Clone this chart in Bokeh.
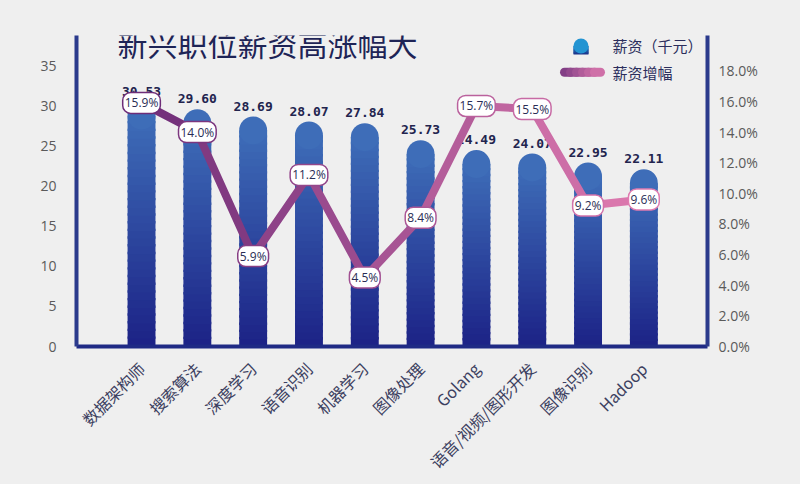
import numpy as np
from bokeh.plotting import figure
from bokeh.models import Range1d, LinearAxis, FixedTicker, NumeralTickFormatter, Label
from bokeh.core.properties import value
from bokeh.embed import file_html
from bokeh.resources import INLINE

# ---------------- data ----------------
categories = ["数据架构师", "搜索算法", "深度学习", "语音识别", "机器学习",
              "图像处理", "Golang", "语音/视频/图形开发", "图像识别", "Hadoop"]
salary = [30.53, 29.60, 28.69, 28.07, 27.84, 25.73, 24.49, 24.07, 22.95, 22.11]
growth_pct = [15.9, 14.0, 5.9, 11.2, 4.5, 8.4, 15.7, 15.5, 9.2, 9.6]
salary_ticks = [0, 5, 10, 15, 20, 25, 30, 35]
growth_ticks = [0, 2, 4, 6, 8, 10, 12, 14, 16, 18]
title_text = "新兴职位薪资高涨幅大"
legend_bar = "薪资（千元）"
legend_line = "薪资增幅"

# ---------------- layout ----------------
W, H = 800, 484
FL, FR, FT, FB = 76, 707, 35, 348
X0, X1 = -1.165, 10.14
Y1 = 38.8
P1 = 0.203
BG = "#efefef"
CJK = "Noto Sans CJK SC"

xs = (FR - FL) / (X1 - X0)
ys = (FB - FT) / Y1


def dx(px):
    return X0 + (px - FL) / xs


def dy(py):
    return (FB - py) / ys


def mix(c1, c2, t):
    a = [int(c1[i:i + 2], 16) for i in (1, 3, 5)]
    b = [int(c2[i:i + 2], 16) for i in (1, 3, 5)]
    return "#" + "".join("%02x" % int(round(a[k] + (b[k] - a[k]) * t)) for k in range(3))


p = figure(width=W, height=H, x_range=Range1d(X0, X1), y_range=Range1d(0, Y1),
           output_backend="svg", toolbar_location=None,
           min_border_left=FL, min_border_right=W - FR,
           min_border_top=FT, min_border_bottom=H - FB,
           background_fill_color=BG, border_fill_color=BG,
           outline_line_color=None, x_axis_location=None, y_axis_location=None)
p.grid.visible = False
p.extra_y_ranges = {"pct": Range1d(0, P1)}

# ---------------- axes ----------------
ax_l = LinearAxis(ticker=FixedTicker(ticks=salary_ticks))
ax_l.axis_line_width = 4
ax_l.axis_line_color = "#2b3a8c"
ax_l.major_tick_line_color = None
ax_l.minor_tick_line_color = None
ax_l.major_label_standoff = 14
ax_l.major_label_text_font = "Open Sans"
ax_l.major_label_text_font_size = "14px"
ax_l.major_label_text_color = "#5a5a5a"
p.add_layout(ax_l, "left")

ax_r = LinearAxis(y_range_name="pct", ticker=FixedTicker(ticks=[t / 100 for t in growth_ticks]),
                  formatter=NumeralTickFormatter(format="0.0%"))
ax_r.axis_line_width = 4
ax_r.axis_line_color = "#2b3a8c"
ax_r.major_tick_line_color = None
ax_r.minor_tick_line_color = None
ax_r.major_label_standoff = 5
ax_r.major_label_text_font = "Open Sans"
ax_r.major_label_text_font_size = "14px"
ax_r.major_label_text_color = "#5a5a5a"
p.add_layout(ax_r, "right")

ax_b = LinearAxis(ticker=FixedTicker(ticks=list(range(len(categories)))))
ax_b.major_label_overrides = {i: c for i, c in enumerate(categories)}
ax_b.major_label_orientation = np.pi / 4
ax_b.axis_line_width = 4
ax_b.axis_line_color = "#1f2a85"
ax_b.major_tick_line_color = None
ax_b.minor_tick_line_color = None
ax_b.major_label_standoff = 13
ax_b.major_label_text_font = CJK
ax_b.major_label_text_font_size = "16px"
ax_b.major_label_text_color = "#3c4060"
p.add_layout(ax_b, "below")

# ---------------- bars (gradient strips + rounded cap) ----------------
BAR_W = 0.5
ry = (BAR_W / 2) * xs / ys
TOP_C, BOT_C = "#3e6db8", "#1c2286"
N = 30
bx, bb, bt, bc = [], [], [], []
for i, v in enumerate(salary):
    h = v - ry
    for k in range(N):
        bx.append(i)
        bb.append(h * k / N)
        bt.append(min(h * (k + 1) / N + 0.3, h))
        bc.append(mix(BOT_C, TOP_C, (k + 0.5) / N))
p.vbar(x=bx, bottom=bb, top=bt, width=BAR_W, fill_color=bc, line_color=None)
p.circle(x=list(range(len(salary))), y=[v - ry for v in salary], radius=BAR_W / 2,
         fill_color=TOP_C, line_color=None)

# value labels
p.text(x=list(range(len(salary))), y=salary, text=["%.2f" % v for v in salary],
       y_offset=-6, text_align="center", text_baseline="bottom",
       text_font=value("DejaVu Sans Mono"), text_font_style="bold",
       text_font_size="13px", text_color="#22244e")

# ---------------- growth line ----------------
L_C0, L_C1 = "#6e2d78", "#e07bb0"
n = len(growth_pct)
gy = [g / 100 for g in growth_pct]
seg_c = [mix(L_C0, L_C1, (i + 0.5) / (n - 1)) for i in range(n - 1)]
p.segment(x0=list(range(n - 1)), y0=gy[:-1], x1=list(range(1, n)), y1=gy[1:],
          line_color=seg_c, line_width=8, line_cap="round", y_range_name="pct")

for i, g in enumerate(growth_pct):
    p.add_layout(Label(x=i, y=g / 100, y_range_name="pct", text="%.1f%%" % g,
                       text_align="center", text_baseline="middle",
                       text_font="Open Sans", text_font_size="12px", text_color="#2a2d55",
                       background_fill_color="white",
                       border_line_color=mix(L_C0, L_C1, i / (n - 1)), border_line_width=1.5,
                       border_radius=8, padding=2))

# ---------------- title ----------------
p.add_layout(Label(x=dx(117), y=dy(43), text=title_text, text_baseline="middle",
                   text_font=CJK, text_font_size="30px", text_color="#1e2456"))

# ---------------- legend ----------------
LB_T, LB_B = "#2394d2", "#1b2e86"
lx0, lx1, ltop, lbot = dx(573), dx(588), dy(38), dy(54)
lr = (lx1 - lx0) / 2
lry = lr * xs / ys
M = 12
q_l, q_r, q_b, q_t, q_c = [], [], [], [], []
for k in range(M):
    hb = ltop - lry - lbot
    q_l.append(lx0)
    q_r.append(lx1)
    q_b.append(lbot + hb * k / M)
    q_t.append(min(lbot + hb * (k + 1) / M + 0.1, lbot + hb))
    q_c.append(mix(LB_B, LB_T, (k + 0.5) / M))
p.quad(left=q_l, right=q_r, bottom=q_b, top=q_t, fill_color=q_c, line_color=None)
p.circle(x=[(lx0 + lx1) / 2], y=[ltop - lry], radius=lr, fill_color=LB_T, line_color=None)

K = 6
lxa, lxb, lyy = dx(564), dx(600), dy(72)
p.segment(x0=[lxa + (lxb - lxa) * k / K for k in range(K)], y0=[lyy] * K,
          x1=[lxa + (lxb - lxa) * (k + 1) / K for k in range(K)], y1=[lyy] * K,
          line_color=[mix("#7b3a83", "#d775ab", (k + 0.5) / K) for k in range(K)],
          line_width=9, line_cap="round")

p.add_layout(Label(x=dx(612), y=dy(45), text=legend_bar, text_baseline="middle",
                   text_font=CJK, text_font_size="15px", text_color="#2b2e5c"))
p.add_layout(Label(x=dx(612), y=dy(72), text=legend_line, text_baseline="middle",
                   text_font=CJK, text_font_size="15px", text_color="#2b2e5c"))

html = file_html(p, INLINE)
html = html.replace("<body>", '<body style="background:%s">' % BG)
open("out.html", "w", encoding="utf-8").write(html)
